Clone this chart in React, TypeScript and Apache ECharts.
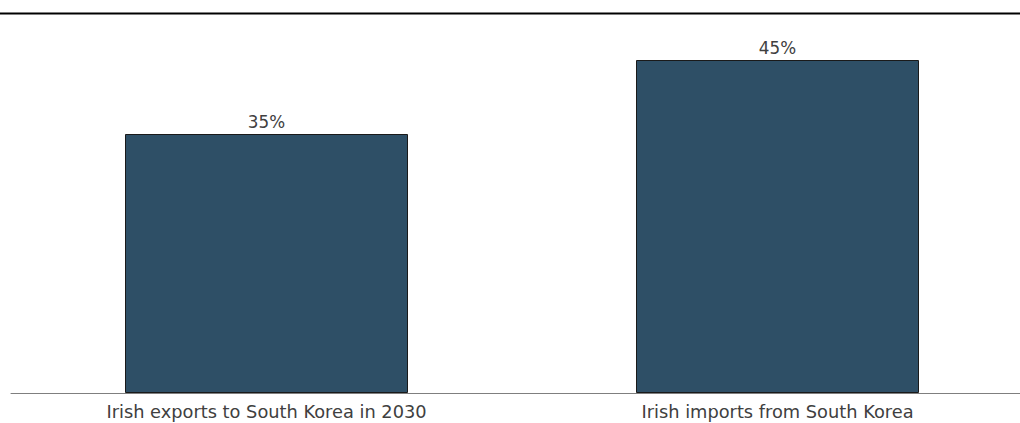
import React, { useEffect, useRef } from "react";
import * as echarts from "echarts";

const categories: string[] = [
  "Irish exports to South Korea in 2030",
  "Irish imports from South Korea",
];
const shares: number[] = [35, 45];

export default function App() {
  const ref = useRef<HTMLDivElement>(null);

  useEffect(() => {
    if (!ref.current) return;
    const chart = echarts.init(ref.current, undefined, { renderer: "svg" });
    chart.setOption({
      animation: false,
      backgroundColor: "#ffffff",
      grid: {
        left: 11,
        width: 1022,
        top: 23,
        bottom: 30,
        containLabel: false,
        outerBoundsMode: "none",
      },
      graphic: [
        {
          type: "line",
          shape: { x1: 0, y1: 13.5, x2: 1020, y2: 13.5 },
          style: { stroke: "#000000", lineWidth: 2 },
        },
      ],
      xAxis: {
        type: "category",
        data: categories,
        axisLine: { lineStyle: { color: "#7f7f7f", width: 1 } },
        axisTick: { show: false },
        axisLabel: {
          color: "#404040",
          fontSize: 17.8,
          fontFamily: "DejaVu Sans",
          margin: 9,
        },
      },
      yAxis: {
        type: "value",
        min: 0,
        max: 50,
        show: false,
        splitLine: { show: false },
      },
      series: [
        {
          type: "bar",
          data: shares,
          barWidth: 283,
          itemStyle: { color: "#2e4f66", borderColor: "#1a1a1a", borderWidth: 1 },
          label: {
            show: true,
            position: "top",
            formatter: "{c}%",
            color: "#404040",
            fontSize: 16.8,
            fontFamily: "DejaVu Sans",
            distance: 4,
          },
        },
      ],
    });
    return () => chart.dispose();
  }, []);

  return (
    <div
      ref={ref}
      style={{ position: "fixed", left: 0, top: 0, width: 1020, height: 423 }}
    />
  );
}
